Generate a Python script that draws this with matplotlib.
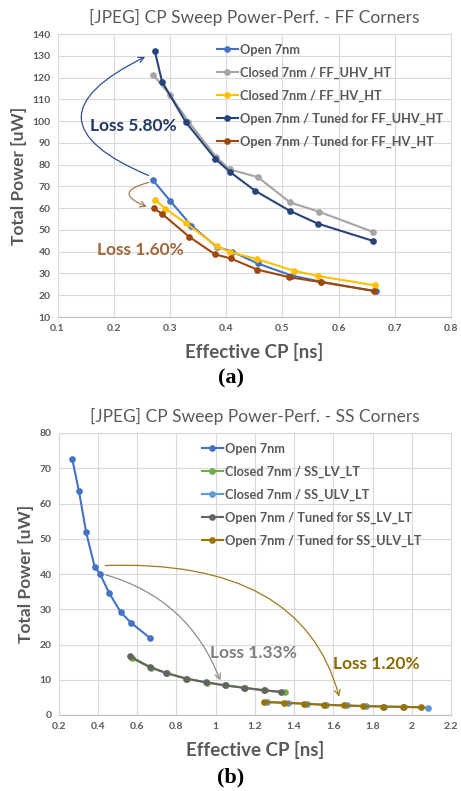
import numpy as np
import matplotlib.pyplot as plt
from matplotlib.ticker import FuncFormatter

plt.rcParams['font.family'] = ['Lato', 'DejaVu Sans']

# ---- (a) FF corners ----
ff_open_x = [0.270, 0.300, 0.338, 0.383, 0.411, 0.456, 0.517, 0.569, 0.666]
ff_open_y = [72.8, 63.5, 52.0, 42.3, 40.0, 34.6, 29.0, 26.2, 21.8]
ff_cuhv_x = [0.270, 0.300, 0.333, 0.382, 0.406, 0.456, 0.514, 0.566, 0.661]
ff_cuhv_y = [121.3, 112.0, 99.8, 83.6, 77.8, 74.3, 62.6, 58.3, 49.1]
ff_chv_x = [0.274, 0.292, 0.329, 0.383, 0.407, 0.455, 0.521, 0.564, 0.665]
ff_chv_y = [63.8, 59.7, 53.0, 42.6, 39.8, 36.6, 31.2, 28.8, 24.5]
ff_tuhv_x = [0.273, 0.286, 0.328, 0.381, 0.407, 0.452, 0.513, 0.563, 0.662]
ff_tuhv_y = [132.3, 118.1, 99.6, 82.6, 76.6, 67.9, 58.8, 52.9, 44.9]
ff_thv_x = [0.271, 0.286, 0.334, 0.380, 0.408, 0.455, 0.512, 0.569, 0.663]
ff_thv_y = [60.0, 57.4, 46.9, 38.8, 36.9, 31.8, 28.3, 26.0, 22.0]

# ---- (b) SS corners ----
ss_open_x = [0.270, 0.304, 0.341, 0.384, 0.412, 0.458, 0.518, 0.569, 0.667]
ss_open_y = [72.6, 63.6, 51.8, 42.1, 40.0, 34.6, 29.1, 26.2, 21.8]
ss_clv_x = [0.574, 0.670, 0.755, 0.857, 0.955, 1.053, 1.152, 1.252, 1.355]
ss_clv_y = [16.1, 13.4, 11.8, 10.3, 9.2, 8.4, 7.7, 7.0, 6.5]
ss_culv_x = [1.262, 1.369, 1.466, 1.563, 1.670, 1.765, 1.857, 1.959, 2.085]
ss_culv_y = [3.7, 3.5, 3.2, 2.9, 2.7, 2.6, 2.4, 2.3, 2.1]
ss_tlv_x = [0.565, 0.667, 0.749, 0.849, 0.950, 1.048, 1.147, 1.245, 1.335]
ss_tlv_y = [16.6, 13.6, 11.9, 10.3, 9.3, 8.4, 7.7, 7.0, 6.5]
ss_tulv_x = [1.245, 1.351, 1.449, 1.551, 1.653, 1.751, 1.853, 1.954, 2.048]
ss_tulv_y = [3.7, 3.4, 3.2, 2.9, 2.7, 2.5, 2.4, 2.3, 2.2]

txt_gray = '#595959'
grid_c = '#D9D9D9'

fig = plt.figure(figsize=(4.61, 7.91), dpi=100)
ax1 = fig.add_axes([57.5 / 461, 1 - 317 / 791, 393.5 / 461, 283 / 791])
ax2 = fig.add_axes([58.5 / 461, 1 - 715 / 791, 392.5 / 461, 282 / 791])


def style_axes(ax, title):
    ax.grid(True, color=grid_c, linewidth=0.8)
    ax.set_axisbelow(True)
    for s in ax.spines.values():
        s.set_color(grid_c)
        s.set_linewidth(0.8)
    ax.spines['bottom'].set_color('#BFBFBF')
    ax.tick_params(length=0, labelsize=7.5, colors=txt_gray, pad=5)
    for lab in ax.get_xticklabels() + ax.get_yticklabels():
        lab.set_fontweight('bold')
    ax.set_title(title, fontsize=12.5, color=txt_gray, pad=8)
    ax.set_xlabel('Effective CP [ns]', fontsize=13.5, fontweight='bold', color=txt_gray, labelpad=7)
    ax.set_ylabel('Total Power [uW]', fontsize=12.5, fontweight='bold', color=txt_gray, labelpad=4)
    ax.xaxis.set_major_formatter(FuncFormatter(lambda v, p: '%g' % round(v, 2)))


def style_legend(ax, x0):
    leg = ax.legend(loc='upper left', bbox_to_anchor=(x0, 1.0), frameon=False,
                    fontsize=9.2, handlelength=1.7, handletextpad=0.15,
                    labelspacing=0.85, borderaxespad=0.35)
    for t in leg.get_texts():
        t.set_color(txt_gray)
        t.set_fontweight('bold')


line_kw = dict(linewidth=1.5, marker='o', markersize=3.8)

# top chart
ax1.plot(ff_open_x, ff_open_y, color='#4472C4', label='Open 7nm', **line_kw)
ax1.plot(ff_cuhv_x, ff_cuhv_y, color='#A5A5A5', label='Closed 7nm / FF_UHV_HT', **line_kw)
ax1.plot(ff_chv_x, ff_chv_y, color='#FFC000', label='Closed 7nm / FF_HV_HT', **line_kw)
ax1.plot(ff_tuhv_x, ff_tuhv_y, color='#264478', label='Open 7nm / Tuned for FF_UHV_HT', **line_kw)
ax1.plot(ff_thv_x, ff_thv_y, color='#9E480E', label='Open 7nm / Tuned for FF_HV_HT', **line_kw)
ax1.set_xlim(0.1, 0.8)
ax1.set_ylim(10, 140)
ax1.set_xticks(np.arange(0.1, 0.81, 0.1))
ax1.set_yticks(np.arange(10, 141, 10))
style_axes(ax1, '[JPEG] CP Sweep Power-Perf. - FF Corners')

ax1.annotate('', xy=(0.256, 129.5), xytext=(0.262, 75.0),
             arrowprops=dict(arrowstyle='->', color='#2F4F8F', lw=0.9,
                             connectionstyle='arc3,rad=-1.1', shrinkA=0, shrinkB=0))
ax1.annotate('', xy=(0.259, 60.6), xytext=(0.262, 71.8),
             arrowprops=dict(arrowstyle='->', color='#A87A55', lw=0.9,
                             connectionstyle='arc3,rad=1.5', shrinkA=0, shrinkB=0))
ax1.text(0.158, 97.7, 'Loss 5.80%', fontsize=12.5, fontweight='bold', color='#203864', va='center')
ax1.text(0.170, 40.6, 'Loss 1.60%', fontsize=12.5, fontweight='bold', color='#A0683C', va='center')
style_legend(ax1, 0.38)

# bottom chart
ax2.plot(ss_open_x, ss_open_y, color='#4472C4', label='Open 7nm', **line_kw)
ax2.plot(ss_clv_x, ss_clv_y, color='#70AD47', label='Closed 7nm / SS_LV_LT', **line_kw)
ax2.plot(ss_culv_x, ss_culv_y, color='#5B9BD5', label='Closed 7nm / SS_ULV_LT', **line_kw)
ax2.plot(ss_tlv_x, ss_tlv_y, color='#636363', label='Open 7nm / Tuned for SS_LV_LT', **line_kw)
ax2.plot(ss_tulv_x, ss_tulv_y, color='#997300', label='Open 7nm / Tuned for SS_ULV_LT', **line_kw)
ax2.set_xlim(0.2, 2.2)
ax2.set_ylim(0, 80)
ax2.set_xticks(np.arange(0.2, 2.21, 0.2))
ax2.set_yticks(np.arange(0, 81, 10))
style_axes(ax2, '[JPEG] CP Sweep Power-Perf. - SS Corners')

ax2.annotate('', xy=(1.024, 9.8), xytext=(0.438, 39.8),
             arrowprops=dict(arrowstyle='->', color='#8C8C8C', lw=0.9,
                             connectionstyle='arc3,rad=-0.25', shrinkA=0, shrinkB=0))
ax2.annotate('', xy=(1.63, 5.2), xytext=(0.438, 42.4),
             arrowprops=dict(arrowstyle='->', color='#9C7A1E', lw=0.9,
                             connectionstyle='angle3,angleA=2,angleB=105', shrinkA=0, shrinkB=0))
ax2.text(0.973, 17.7, 'Loss 1.33%', fontsize=12.5, fontweight='bold', color='#808080', va='center')
ax2.text(1.600, 14.6, 'Loss 1.20%', fontsize=12.5, fontweight='bold', color='#8B6A00', va='center')
style_legend(ax2, 0.34)

fig.text(0.5, 1 - 378 / 791, '(a)', ha='center', va='center', fontsize=16,
         fontweight='bold', family='Liberation Serif', color='black')
fig.text(0.5, 1 - 777 / 791, '(b)', ha='center', va='center', fontsize=16,
         fontweight='bold', family='Liberation Serif', color='black')

fig.savefig('out.png', dpi=100)
